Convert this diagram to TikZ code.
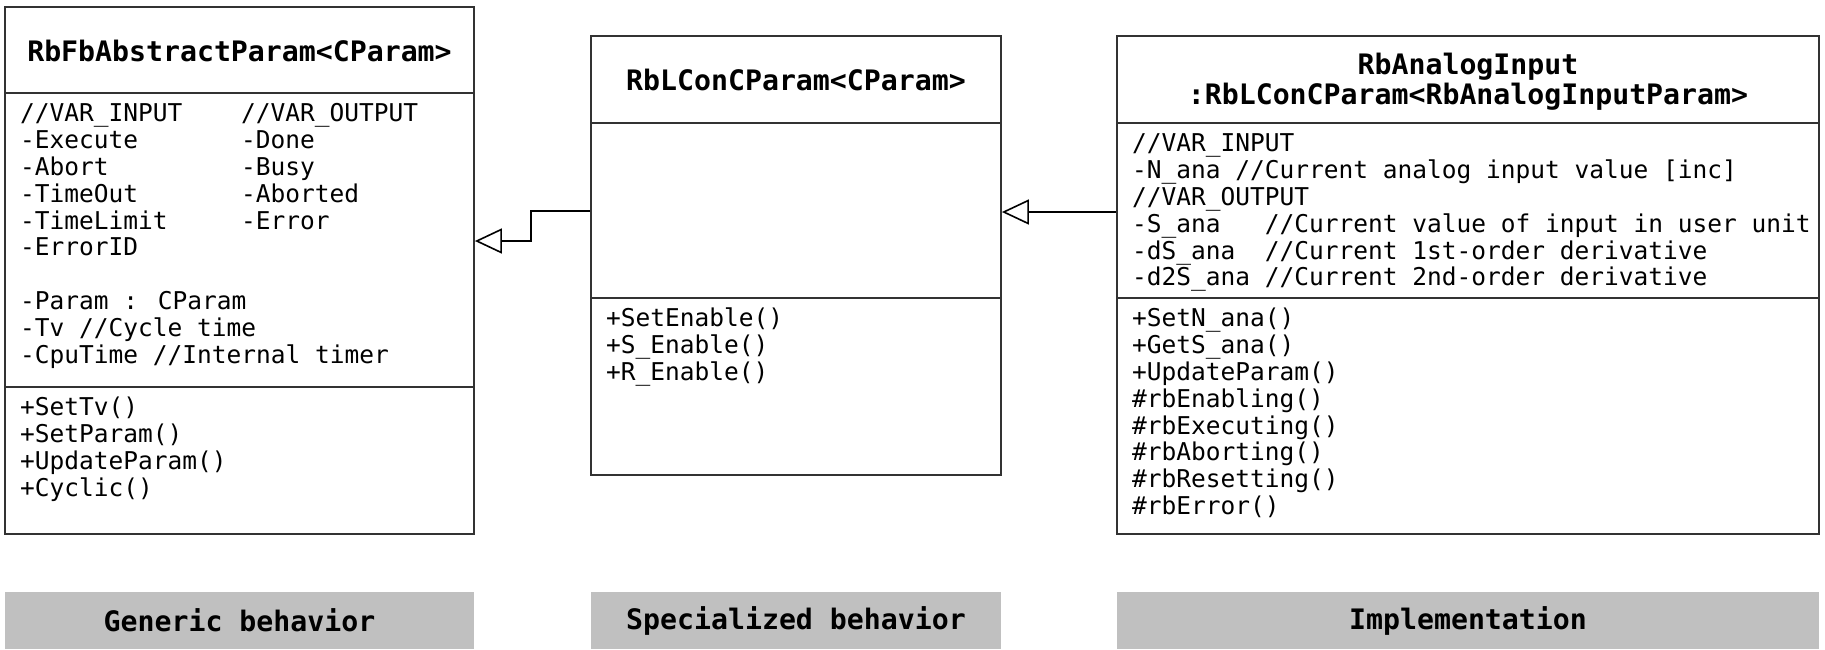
\documentclass[tikz,border=0pt]{standalone}
\usepackage{fontspec}
\usetikzlibrary{arrows.meta}
\newfontfamily\umlmono{DejaVu Sans Mono}
\definecolor{linegray}{RGB}{50,50,50}
\definecolor{bandgray}{RGB}{192,192,192}

\begin{document}
\begin{tikzpicture}[x=1pt,y=1pt]
\tikzstyle{every node}+=[inner sep=0pt]
\tikzstyle{classbox}=[draw=linegray, line width=1.8pt, fill=white]
\tikzstyle{titletext}=[anchor=base, font={\umlmono\bfseries\fontsize{28.2}{30}\selectfont}]
\tikzstyle{membertext}=[anchor=north west, align=left, font={\umlmono\fontsize{24.5}{26.8}\selectfont}]
\tikzstyle{bandbox}=[fill=bandgray, minimum height=57pt, font={\umlmono\bfseries\fontsize{28.2}{30}\selectfont}]
\tikzstyle{inheritline}=[draw=black, line width=1.6pt, -{Triangle[open, length=27pt, width=25pt]}]
\useasboundingbox (0,0) rectangle (1825,-649);
% generic class
\node [classbox, minimum width=469pt, minimum height=527pt] (gen) at (239.5,-270.5) {};
\draw [linegray, line width=1.8pt] ([yshift=-87pt]gen.north west) -- ([yshift=-87pt]gen.north east);
\draw [linegray, line width=1.8pt] ([yshift=-381pt]gen.north west) -- ([yshift=-381pt]gen.north east);
\node [titletext] (gentitle) at (239.5,-61) {RbFbAbstractParam<CParam>};
\node [membertext] (genin) at (20,-103) {\strut//VAR\_INPUT\\-Execute\\-Abort\\-TimeOut\\-TimeLimit\\-ErrorID\\ \\-Param : CParam\\-Tv //Cycle time\\-CpuTime //Internal timer};
\node [membertext] (genout) at (241,-103) {\strut//VAR\_OUTPUT\\-Done\\-Busy\\-Aborted\\-Error};
\node [membertext] (genops) at (20,-397) {\strut+SetTv()\\+SetParam()\\+UpdateParam()\\+Cyclic()};
% specialized class
\node [classbox, minimum width=410pt, minimum height=439pt] (spec) at (796,-255.5) {};
\draw [linegray, line width=1.8pt] ([yshift=-88pt]spec.north west) -- ([yshift=-88pt]spec.north east);
\draw [linegray, line width=1.8pt] ([yshift=-263pt]spec.north west) -- ([yshift=-263pt]spec.north east);
\node [titletext] (spectitle) at (796,-90) {RbLConCParam<CParam>};
\node [membertext] (specops) at (606,-308) {\strut+SetEnable()\\+S\_Enable()\\+R\_Enable()};
% implementation class
\node [classbox, minimum width=702pt, minimum height=498pt] (impl) at (1468,-285) {};
\draw [linegray, line width=1.8pt] ([yshift=-88pt]impl.north west) -- ([yshift=-88pt]impl.north east);
\draw [linegray, line width=1.8pt] ([yshift=-263pt]impl.north west) -- ([yshift=-263pt]impl.north east);
\node [titletext] (impltitle) at (1468,-74) {RbAnalogInput};
\node [titletext] (implbase) at (1468,-104) {:RbLConCParam<RbAnalogInputParam>};
\node [membertext] (implin) at (1132,-133) {\strut//VAR\_INPUT\\-N\_ana //Current analog input value [inc]\\//VAR\_OUTPUT\\-S\_ana\ \ \ //Current value of input in user unit\\-dS\_ana\ \ //Current 1st-order derivative\\-d2S\_ana //Current 2nd-order derivative};
\node [membertext] (implops) at (1132,-308) {\strut+SetN\_ana()\\+GetS\_ana()\\+UpdateParam()\\\#rbEnabling()\\\#rbExecuting()\\\#rbAborting()\\\#rbResetting()\\\#rbError()};
% generalization arrows
\draw [inheritline] ([yshift=44.5pt]spec.west) -- ++(-59,0) |- ([yshift=29.5pt]gen.east);
\draw [inheritline] ([yshift=73pt]impl.west) -- ([yshift=73pt]impl.west -| spec.east);
% bands
\node [bandbox, minimum width=469pt] (genband) at (239.5,-620.5) {Generic behavior};
\node [bandbox, minimum width=410pt] (specband) at (796,-620.5) {Specialized behavior};
\node [bandbox, minimum width=702pt] (implband) at (1468,-620.5) {Implementation};
\end{tikzpicture}
\end{document}
